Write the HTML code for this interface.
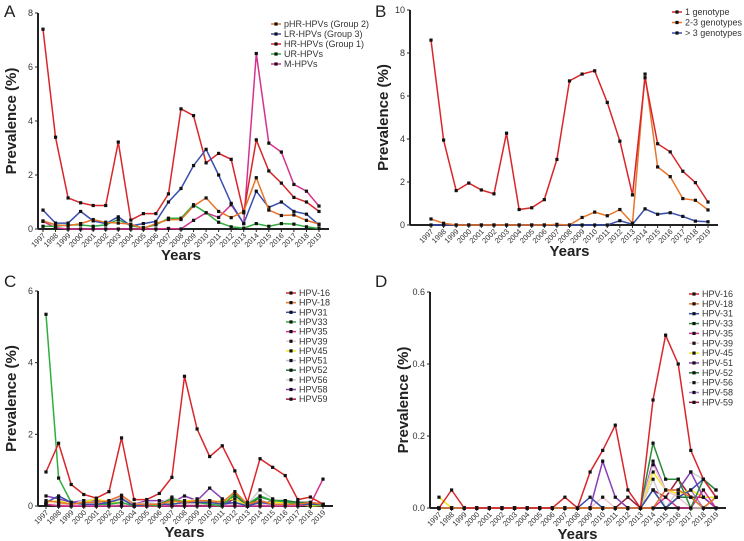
<!DOCTYPE html>
<html><head><meta charset="utf-8"><style>
body{margin:0;background:#fff;}
svg{display:block;font-family:"Liberation Sans",sans-serif;}
</style></head><body>
<svg id="chart" width="744" height="541" viewBox="0 0 744 541"></svg>
<script>
const years = ["1997","1998","1999","2000","2001","2002","2003","2004","2005","2006","2007","2008","2009","2010","2011","2012","2013","2014","2015","2016","2017","2018","2019"];
// Panel A
const aPHR = [0.3,0.15,0.12,0.2,0.35,0.25,0.22,0.18,0.02,0.2,0.35,0.35,0.85,1.15,0.65,0.42,0.65,1.9,0.7,0.5,0.52,0.32,0.18];
const aLR  = [0.7,0.22,0.22,0.65,0.3,0.2,0.45,0.12,0.2,0.28,1.0,1.5,2.35,2.95,2.0,0.95,0.2,1.4,0.8,1.0,0.65,0.55,0.15];
const aHR  = [7.4,3.4,1.15,0.97,0.87,0.87,3.22,0.33,0.57,0.57,1.3,4.45,4.2,2.45,2.8,2.58,0.6,3.3,2.15,1.7,1.17,1.0,0.65];
const aUR  = [0.1,0.1,0.15,0.15,0.1,0.15,0.35,0.12,0.05,0.15,0.4,0.4,0.9,0.6,0.25,0.08,0.03,0.2,0.1,0.2,0.18,0.08,0.02];
const aM   = [0.28,0.05,0,0,0,0,0,0,0,0,0.02,0,0.32,0.6,0.43,0.9,0.2,6.5,3.18,2.85,1.65,1.4,0.85];
const aTicks = [0,2,4,6,8];
// Panel B
const b1 = [8.6,3.95,1.6,1.95,1.63,1.45,4.27,0.72,0.8,1.18,3.05,6.7,7.02,7.17,5.7,3.9,1.4,6.85,3.78,3.4,2.5,1.97,1.07];
const b23 = [0.28,0.08,0,0,0,0,0,0,0,0,0.03,0,0.35,0.6,0.43,0.72,0.08,7.02,2.7,2.25,1.23,1.15,0.7];
const bGt3 = [0,0,0,0,0,0,0,0,0,0,0,0,0,0,0,0.2,0.03,0.75,0.5,0.57,0.4,0.18,0.15];
const bTicks = [0,2,4,6,8,10];
// Panel C
const c16 = [0.95,1.75,0.6,0.32,0.22,0.4,1.9,0.18,0.18,0.35,0.8,3.62,2.15,1.38,1.68,0.98,0.1,1.32,1.08,0.85,0.18,0.25,0.05];
const c18 = [0.15,0.1,0.05,0.1,0.1,0.15,0.3,0.05,0.05,0.05,0.15,0.1,0.15,0.15,0.1,0.4,0.05,0.15,0.05,0.05,0.05,0.1,0.05];
const c31 = [0.1,0.28,0.1,0.05,0.05,0.1,0.2,0,0.05,0.05,0.05,0.1,0.1,0.1,0.05,0.1,0,0.1,0.05,0.05,0.05,0.05,0.05];
const c33 = [5.35,0.78,0.1,0.05,0.05,0.05,0.1,0,0.05,0,0.2,0.1,0.1,0.05,0,0.35,0.05,0.28,0.15,0.12,0.05,0.05,0.02];
const c35 = [0.05,0,0,0,0,0,0,0,0,0,0,0,0,0,0,0,0,0,0,0,0,0.05,0.75];
const c39 = [0.05,0.05,0.05,0.05,0.05,0.05,0.05,0,0.05,0.05,0.05,0.05,0.05,0.05,0.05,0.05,0,0.05,0.05,0.05,0.05,0.05,0.05];
const c45 = [0.1,0.15,0.05,0.1,0.2,0.1,0.1,0,0,0,0.1,0.15,0.15,0.1,0.15,0.2,0,0.1,0.1,0.1,0.05,0,0.02];
const c51 = [0.05,0.05,0.02,0.02,0.02,0.02,0.05,0,0.02,0.02,0.05,0.05,0.05,0.05,0.02,0.05,0,0.05,0.02,0.02,0.02,0.02,0.02];
const c52 = [0.05,0.05,0.05,0.05,0.05,0.05,0.05,0,0.05,0.05,0.2,0.1,0.1,0.05,0.05,0.3,0,0.25,0.15,0.15,0.1,0.1,0.05];
const c56 = [0.05,0.05,0.05,0.15,0.2,0.1,0.25,0.05,0.1,0.05,0.25,0.1,0.2,0.05,0.1,0.3,0.05,0.45,0.2,0.1,0.1,0.05,0.05];
const c58 = [0.28,0.2,0.1,0.15,0.15,0.1,0.2,0.05,0.15,0.15,0.1,0.28,0.15,0.5,0.2,0.05,0,0.05,0.15,0.15,0.1,0.1,0.05];
const c59 = [0.05,0,0,0,0,0.05,0.05,0,0,0,0.05,0.05,0.05,0.15,0.05,0.2,0,0.15,0.05,0.05,0.05,0.05,0.05];
const cTicks = [0,2,4,6];
// Panel D
const d16 = [0,0.05,0,0,0,0,0,0,0,0,0.03,0,0.1,0.16,0.23,0.05,0,0.3,0.48,0.4,0.16,0.08,0.03];
const d18 = [0,0,0,0,0,0,0,0,0,0,0,0,0,0,0,0,0,0,0.05,0.05,0.03,0,0.03];
const d31 = [0,0,0,0,0,0,0,0,0,0,0,0,0.03,0,0,0,0,0.05,0,0.03,0.05,0.08,0.03];
const d33 = [0,0,0,0,0,0,0,0,0,0,0,0,0,0,0,0,0,0.18,0.08,0.08,0,0.08,0.05];
const d35 = [0,0,0,0,0,0,0,0,0,0,0,0,0,0,0,0,0,0,0.03,0,0,0.05,0];
const d39 = [0,0,0,0,0,0,0,0,0,0,0,0,0,0.03,0,0,0,0.12,0.05,0.03,0,0,0.03];
const d45 = [0.03,0,0,0,0,0,0,0,0,0,0,0,0,0,0,0,0,0.1,0.05,0.04,0.05,0.03,0.03];
const d51 = [0,0,0,0,0,0,0,0,0,0,0,0,0,0.13,0.03,0,0,0.13,0.05,0.05,0.1,0.03,0];
const d52 = [0,0,0,0,0,0,0,0,0,0,0,0,0,0,0,0,0,0.05,0,0.03,0.03,0,0.03];
const d56 = [0,0,0,0,0,0,0,0,0,0,0,0,0,0,0,0,0,0.08,0,0.05,0.1,0.08,0.05];
const d58 = [0,0,0,0,0,0,0,0,0,0,0,0,0,0,0,0,0,0.05,0,0.03,0.05,0,0.03];
const d59 = [0,0,0,0,0,0,0,0,0,0,0,0,0,0,0,0.03,0,0.05,0.03,0.08,0.03,0.03,0];
const dTicks = ["0.0","0.2","0.4","0.6"];

const NS="http://www.w3.org/2000/svg";
const svg=document.getElementById('chart');
function mk(tag,attrs,parent){const e=document.createElementNS(NS,tag);for(const k in attrs)e.setAttribute(k,attrs[k]);(parent||svg).appendChild(e);return e;}

function drawPanel(p){
  const g=mk('g',{});
  
  
  const ymax=parseFloat(p.ticks[p.ticks.length-1]);
  const xs=i=>p.x0+(p.x1-p.x0)*i/(years.length-1);
  const ys=v=>p.yb-(p.yb-p.yt)*v/ymax;
  const lab=mk('text',{x:p.lx,y:p.ly,'font-size':17,fill:'#222'},g);lab.textContent=p.id;
  
  
  const ya=mk('line',{x1:p.ax,y1:p.yt,x2:p.ax,y2:p.yb,stroke:'#222','stroke-width':2},g);
  
  
  const xa=mk('line',{x1:p.ax,y1:p.yb,x2:p.x1+10,y2:p.yb,stroke:'#222','stroke-width':2},g);
  
  
  p.ticks.forEach(t=>{
    const y=ys(parseFloat(t));
    mk('line',{x1:p.ax-3,y1:y,x2:p.ax,y2:y,stroke:'#222','stroke-width':1},g);
    const tx=mk('text',{x:p.ax-5,y:y+3,'font-size':9,'text-anchor':'end',fill:'#333'},g);tx.textContent=t;
    
    
  });
  years.forEach((yr,i)=>{
    const x=xs(i);
    mk('line',{x1:x,y1:p.yb,x2:x,y2:p.yb+3,stroke:'#222','stroke-width':1},g);
    const tx=mk('text',{x:x+3,y:p.yb+7,'font-size':7.5,'text-anchor':'end',fill:'#333',transform:`rotate(-45 ${x+3} ${p.yb+7})`},g);tx.textContent=yr;
    
    
  });
  const yt=mk('text',{x:0,y:0,'font-size':15,'font-weight':'bold','text-anchor':'middle',fill:'#222',transform:`translate(${p.ax-22},${(p.yt+p.yb)/2}) rotate(-90)`},g);yt.textContent='Prevalence (%)';
  
  
  const xt=mk('text',{x:(p.x0+p.x1)/2,y:p.yb+31,'font-size':15,'font-weight':'bold','text-anchor':'middle',fill:'#222'},g);xt.textContent='Years';
  
  
  p.series.slice().reverse().forEach(s=>{
    const sg=mk('g',{},g);
    
    
    const pts=s.data.map((v,i)=>xs(i).toFixed(1)+','+ys(v).toFixed(1)).join(' ');
    mk('polyline',{points:pts,fill:'none',stroke:s.color,'stroke-width':1.5},sg);
    s.data.forEach((v,i)=>{
      const c=mk('rect',{x:xs(i)-1.6,y:ys(v)-1.6,width:3.2,height:3.2,fill:'#111'},sg);
      
      
    });
  });
  p.series.forEach((s,k)=>{
    const y=p.legY+k*p.legStep;
    const lg=mk('g',{},g);
    
    
    mk('line',{x1:p.legX-5,y1:y,x2:p.legX+5,y2:y,stroke:s.color,'stroke-width':1.5},lg);
    mk('rect',{x:p.legX-1.6,y:y-1.6,width:3.2,height:3.2,fill:'#111'},lg);
    const t=mk('text',{x:p.legX+8,y:y+3,'font-size':p.legFs,fill:'#333'},lg);t.textContent=s.name;
  });
}

drawPanel({id:'A',lx:4,ly:17,ax:38,x0:43,x1:319,yt:13,yb:229,ticks:aTicks,legX:276,legY:24,legStep:10,legFs:9,
  series:[{name:'pHR-HPVs (Group 2)',color:'#e8752a',data:aPHR},{name:'LR-HPVs (Group 3)',color:'#3a4fb0',data:aLR},
  {name:'HR-HPVs (Group 1)',color:'#d9262a',data:aHR},{name:'UR-HPVs',color:'#2fae3c',data:aUR},{name:'M-HPVs',color:'#d6318f',data:aM}]});
drawPanel({id:'B',lx:375,ly:17,ax:410,x0:431,x1:708,yt:10,yb:225,ticks:bTicks,legX:677,legY:12,legStep:10.5,legFs:9,
  series:[{name:'1 genotype',color:'#d9262a',data:b1},{name:'2-3 genotypes',color:'#e8752a',data:b23},{name:'> 3 genotypes',color:'#3a4fb0',data:bGt3}]});
drawPanel({id:'C',lx:4,ly:287,ax:38,x0:46,x1:323,yt:291,yb:506,ticks:cTicks,legX:291,legY:293,legStep:9.65,legFs:9,
  series:[{name:'HPV-16',color:'#d9262a',data:c16},{name:'HPV-18',color:'#e8752a',data:c18},{name:'HPV31',color:'#3a4fb0',data:c31},
  {name:'HPV33',color:'#2fae3c',data:c33},{name:'HPV35',color:'#d6318f',data:c35},{name:'HPV39',color:'#f0c8d0',data:c39},
  {name:'HPV45',color:'#f2e81c',data:c45},{name:'HPV51',color:'#c9b6dc',data:c51},{name:'HPV52',color:'#1e7a3a',data:c52},
  {name:'HPV56',color:'#cfcfcf',data:c56},{name:'HPV58',color:'#8a3fb5',data:c58},{name:'HPV59',color:'#a01c3c',data:c59}]});
drawPanel({id:'D',lx:375,ly:287,ax:430,x0:439,x1:716,yt:292,yb:508,ticks:dTicks,legX:694,legY:294,legStep:9.85,legFs:9,
  series:[{name:'HPV-16',color:'#d9262a',data:d16},{name:'HPV-18',color:'#e8752a',data:d18},{name:'HPV-31',color:'#3a4fb0',data:d31},
  {name:'HPV-33',color:'#2a8a3a',data:d33},{name:'HPV-35',color:'#d6318f',data:d35},{name:'HPV-39',color:'#f0c8d0',data:d39},
  {name:'HPV-45',color:'#f2e81c',data:d45},{name:'HPV-51',color:'#8a3fb5',data:d51},{name:'HPV-52',color:'#1e7a3a',data:d52},
  {name:'HPV-56',color:'#cfcfcf',data:d56},{name:'HPV-58',color:'#b07cd0',data:d58},{name:'HPV-59',color:'#a01c3c',data:d59}]});
</script>
</body></html>
